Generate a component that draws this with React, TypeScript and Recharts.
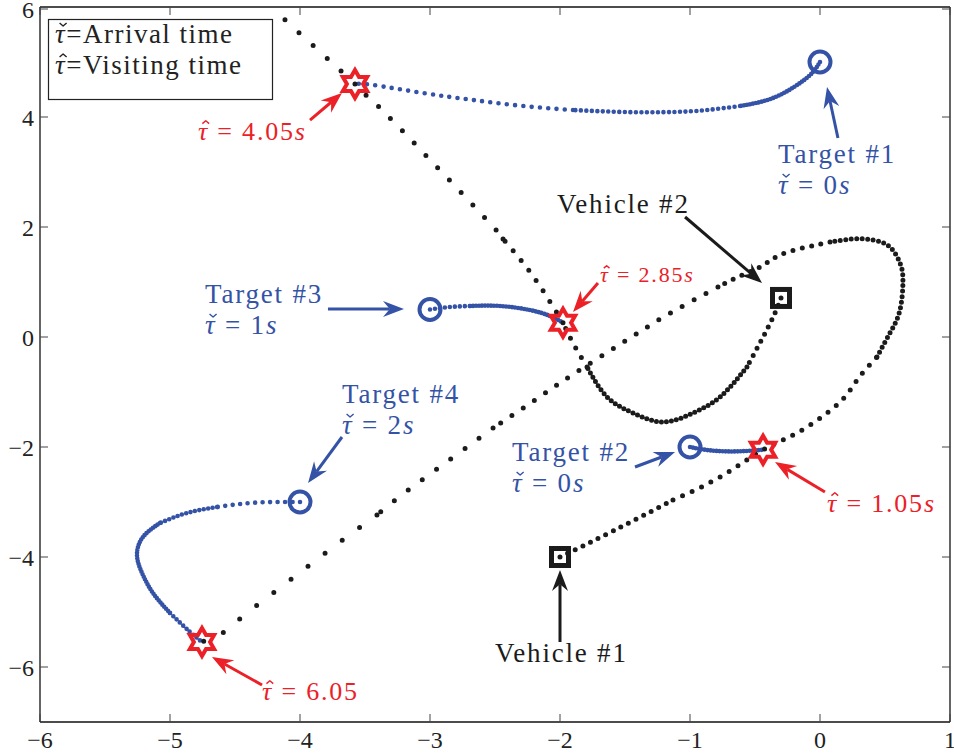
import React from 'react';
import { ComposedChart, Line, Scatter, XAxis, YAxis, ReferenceLine, ReferenceDot } from 'recharts';

type Pt = { x: number; y: number };
const pts = (rows: number[][]): Pt[] => rows.map(([x, y]) => ({ x, y }));

const xTicks = [-6, -5, -4, -3, -2, -1, 0, 1];
const yTicks = [-6, -4, -2, 0, 2, 4, 6];

// where each target / vehicle starts, and where a target is visited
const targetStarts = pts([[0, 5], [-1, -2], [-3, 0.5], [-4, -3]]);
const vehicleStarts = pts([[-2, -4], [-0.3, 0.71]]);
const visitPoints = pts([[-0.438, -2.05], [-1.977, 0.26], [-3.577, 4.6], [-4.754, -5.545]]);

// vehicle #1, split where the sample spacing changes
const v1Launch = pts([[-2, -4], [-1.592, -3.527], [-1.131, -2.964]]);
const v1Climb = pts([[-1.131, -2.964], [-0.769, -2.545], [-0.438, -2.05], [-0.177, -1.745], [0.138, -1.218], [0.285, -0.782], [0.438, -0.364]]);
const v1Turn = pts([[0.438, -0.364], [0.538, 0.073], [0.615, 0.491], [0.638, 1.036], [0.615, 1.345], [0.538, 1.636], [0.408, 1.764], [0.254, 1.782], [0.077, 1.727]]);
const v1Exit = pts([[0.077, 1.727], [-0.1, 1.636], [-0.308, 1.491], [-0.462, 1.273], [-0.631, 1.091], [-0.785, 0.909]]);
const v1Run = pts([[-0.785, 0.909], [-1.177, 0.4], [-1.523, -0.109], [-1.885, -0.655], [-2.192, -1.145], [-2.515, -1.655]]);
const v1Dash = pts([[-2.515, -1.655], [-2.831, -2.2], [-3.177, -2.8], [-3.408, -3.236]]);
const v1Final = pts([[-3.408, -3.236], [-3.662, -3.673], [-3.915, -4.127], [-4.177, -4.6], [-4.446, -5.091], [-4.585, -5.364], [-4.754, -5.545]]);

// vehicle #2
const v2Launch = pts([[-0.3, 0.71], [-0.346, 0.436], [-0.438, 0.0], [-0.562, -0.545]]);
const v2Loop = pts([[-0.562, -0.545], [-0.769, -1.091], [-0.977, -1.382], [-1.208, -1.545], [-1.438, -1.382], [-1.638, -1.091], [-1.792, -0.545]]);
const v2Rise = pts([[-1.792, -0.545], [-1.9, -0.109], [-1.977, 0.26]]);
const v2Leave = pts([[-1.977, 0.26], [-2.208, 1.109], [-2.438, 1.782]]);
const v2Cruise = pts([[-2.438, 1.782], [-2.562, 2.127], [-3.285, 3.927], [-3.477, 4.364], [-3.577, 4.6]]);
const v2Out = pts([[-3.577, 4.6], [-3.685, 4.836], [-4.131, 5.8]]);

// target motion
const t1Slow = pts([[0, 5], [-0.054, 4.818], [-0.154, 4.618], [-0.362, 4.345], [-0.615, 4.2]]);
const t1Mid = pts([[-0.615, 4.2], [-0.869, 4.127], [-1.131, 4.091], [-1.515, 4.091], [-1.9, 4.127]]);
const t1Fast = pts([[-1.9, 4.127], [-2.285, 4.2], [-2.669, 4.309], [-3.054, 4.436], [-3.438, 4.582], [-3.577, 4.6]]);
const t2Path = pts([[-1, -2], [-0.85, -2.06], [-0.65, -2.08], [-0.438, -2.05]]);
const t3Start = pts([[-3, 0.5], [-2.846, 0.545], [-2.692, 0.564]]);
const t3Path = pts([[-2.692, 0.564], [-2.462, 0.564], [-2.231, 0.49], [-2.077, 0.382], [-1.977, 0.26]]);
const t4Start = pts([[-4, -3], [-4.154, -3.0], [-4.385, -3.018], [-4.638, -3.091]]);
const t4Bend = pts([[-4.638, -3.091], [-4.869, -3.2], [-5.077, -3.382]]);
const t4Turn = pts([[-5.077, -3.382], [-5.208, -3.636], [-5.254, -3.964], [-5.215, -4.291], [-5.131, -4.655], [-5.0, -5.018]]);
const t4End = pts([[-5.0, -5.018], [-4.846, -5.364], [-4.754, -5.545]]);

const BLUE = '#3453a6';
const RED = '#ec2027';
const INK = '#1b1b1b';
const FONT = '"Liberation Serif", "Times New Roman", serif';

const paths = [
  { id: 't1a', data: t1Slow, color: BLUE, gap: 3 },
  { id: 't1b', data: t1Mid, color: BLUE, gap: 5.5 },
  { id: 't1c', data: t1Fast, color: BLUE, gap: 8.3 },
  { id: 't2', data: t2Path, color: BLUE, gap: 3 },
  { id: 't3a', data: t3Start, color: BLUE, gap: 5 },
  { id: 't3b', data: t3Path, color: BLUE, gap: 3 },
  { id: 't4a', data: t4Start, color: BLUE, gap: 7.5 },
  { id: 't4b', data: t4Bend, color: BLUE, gap: 4.5 },
  { id: 't4c', data: t4Turn, color: BLUE, gap: 2.8 },
  { id: 't4d', data: t4End, color: BLUE, gap: 4.5 },
  { id: 'v1a', data: v1Launch, color: INK, gap: 8.5 },
  { id: 'v1b', data: v1Climb, color: INK, gap: 10.5 },
  { id: 'v1c', data: v1Turn, color: INK, gap: 5.5 },
  { id: 'v1d', data: v1Exit, color: INK, gap: 9.5 },
  { id: 'v1e', data: v1Run, color: INK, gap: 13.5 },
  { id: 'v1f', data: v1Dash, color: INK, gap: 17.5 },
  { id: 'v1g', data: v1Final, color: INK, gap: 21.5 },
  { id: 'v2a', data: v2Launch, color: INK, gap: 8 },
  { id: 'v2b', data: v2Loop, color: INK, gap: 5 },
  { id: 'v2c', data: v2Rise, color: INK, gap: 11 },
  { id: 'v2d', data: v2Leave, color: INK, gap: 12.5 },
  { id: 'v2e', data: v2Cruise, color: INK, gap: 17 },
  { id: 'v2f', data: v2Out, color: INK, gap: 19 },
];

// callouts: arrow from tail to head, in axis units
const arrows = [
  { from: { x: -3.923, y: 3.945 }, to: { x: -3.677, y: 4.436 }, color: RED },
  { from: { x: 0.138, y: 3.618 }, to: { x: 0.054, y: 4.545 }, color: BLUE },
  { from: { x: -1.038, y: 2.182 }, to: { x: -0.446, y: 0.982 }, color: INK },
  { from: { x: -1.708, y: 0.982 }, to: { x: -1.9, y: 0.455 }, color: RED },
  { from: { x: -3.785, y: 0.509 }, to: { x: -3.2, y: 0.509 }, color: BLUE },
  { from: { x: -3.677, y: -1.818 }, to: { x: -3.938, y: -2.655 }, color: BLUE },
  { from: { x: -1.423, y: -2.364 }, to: { x: -1.115, y: -2.091 }, color: BLUE },
  { from: { x: 0.038, y: -2.818 }, to: { x: -0.346, y: -2.273 }, color: RED },
  { from: { x: -2.0, y: -5.545 }, to: { x: -2.0, y: -4.236 }, color: INK },
  { from: { x: -4.292, y: -6.327 }, to: { x: -4.677, y: -5.818 }, color: RED },
];

// text anchored at the left end of its first baseline
const notes = [
  { x: -4.785, y: 3.582, color: RED, size: 26, lines: ['τ\u0302 = 4.05s'] },
  { x: -0.323, y: 3.164, color: BLUE, size: 27, lines: ['Target #1', 'τ\u030C = 0s'] },
  { x: -2.023, y: 2.255, color: INK, size: 27, lines: ['Vehicle #2'] },
  { x: -1.692, y: 1.0, color: RED, size: 22, lines: ['τ\u0302 = 2.85s'] },
  { x: -4.731, y: 0.618, color: BLUE, size: 27, lines: ['Target #3', 'τ\u030C = 1s'] },
  { x: -3.677, y: -1.2, color: BLUE, size: 27, lines: ['Target #4', 'τ\u030C = 2s'] },
  { x: -2.369, y: -2.255, color: BLUE, size: 27, lines: ['Target #2', 'τ\u030C = 0s'] },
  { x: 0.054, y: -3.182, color: RED, size: 26, lines: ['τ\u0302 = 1.05s'] },
  { x: -2.5, y: -5.909, color: INK, size: 27, lines: ['Vehicle #1'] },
  { x: -4.292, y: -6.6, color: RED, size: 26, lines: ['τ\u0302 = 6.05'] },
];

const fmt = (v: number) => (v < 0 ? '\u2212' + Math.abs(v) : String(v));

// accent over a leading τ, drawn as a stroke since the serif face won't stack the mark
function Accent({ x, y, size, kind, color }: { x: number; y: number; size: number; kind: string; color: string }) {
  const cx = x + 0.3 * size;
  const top = y - 0.74 * size;
  const w = 0.13 * size;
  const h = 0.11 * size;
  const d =
    kind === '\u0302'
      ? `M${cx - w},${top + h}L${cx},${top}L${cx + w},${top + h}`
      : `M${cx - w},${top}L${cx},${top + h}L${cx + w},${top}`;
  return <path d={d} fill="none" stroke={color} strokeWidth={1.4} strokeLinejoin="round" />;
}

// italic τ and trailing unit, upright digits
function MathLine({ text }: { text: string }) {
  if (!text.startsWith('τ')) return <>{text}</>;
  let rest = text.slice(2);
  let unit = '';
  if (/\ds$/.test(rest)) {
    unit = 's';
    rest = rest.slice(0, -1);
  }
  return (
    <>
      <tspan fontStyle="italic">τ</tspan>
      <tspan>{rest}</tspan>
      {unit && <tspan fontStyle="italic">{unit}</tspan>}
    </>
  );
}

function BottomTick({ x, y, payload }: any) {
  return (
    <g>
      <line x1={x} x2={x} y1={y - 9} y2={y - 17} stroke="#444" strokeWidth={1} />
      <text x={x} y={y} dy="0.71em" textAnchor="middle" fontFamily={FONT} fontSize={24} fill="#222">
        {fmt(payload.value)}
      </text>
    </g>
  );
}

function LeftTick({ x, y, payload }: any) {
  return (
    <g>
      <line x1={x + 6} x2={x + 14} y1={y} y2={y} stroke="#444" strokeWidth={1} />
      <text x={x} y={y} dy="0.36em" textAnchor="end" fontFamily={FONT} fontSize={24} fill="#222">
        {fmt(payload.value)}
      </text>
    </g>
  );
}

const TopTick = ({ x, y }: any) => <line x1={x} x2={x} y1={y} y2={y + 8} stroke="#444" strokeWidth={1} />;
const RightTick = ({ x, y }: any) => <line x1={x} x2={x - 8} y1={y} y2={y} stroke="#444" strokeWidth={1} />;

const TargetMark = ({ cx, cy }: any) => (
  <circle cx={cx} cy={cy} r={10.5} fill="none" stroke={BLUE} strokeWidth={4} />
);

const VehicleMark = ({ cx, cy }: any) => (
  <rect x={cx - 8.5} y={cy - 8.5} width={17} height={17} fill="none" stroke={INK} strokeWidth={5} />
);

function VisitMark({ cx, cy }: any) {
  const R = 14;
  const r = R / Math.sqrt(3);
  const d = Array.from({ length: 12 }, (_, i) => {
    const a = (-90 + i * 30) * (Math.PI / 180);
    const rad = i % 2 === 0 ? R : r;
    return `${i ? 'L' : 'M'}${cx + rad * Math.cos(a)},${cy + rad * Math.sin(a)}`;
  }).join('') + 'Z';
  return <path d={d} fill="none" stroke={RED} strokeWidth={4} />;
}

function Arrow({ x1, y1, x2, y2, stroke }: any) {
  const ang = Math.atan2(y2 - y1, x2 - x1);
  const c = Math.cos(ang);
  const s = Math.sin(ang);
  const at = (back: number, side: number) => [x2 - back * c - side * s, y2 - back * s + side * c];
  const L = 21;
  const [ax, ay] = at(L, 8);
  const [nx, ny] = at(L * 0.68, 0);
  const [bx, by] = at(L, -8);
  return (
    <g>
      <line x1={x1} y1={y1} x2={nx} y2={ny} stroke={stroke} strokeWidth={3} />
      <path d={`M${x2},${y2}L${ax},${ay}L${nx},${ny}L${bx},${by}Z`} fill={stroke} />
    </g>
  );
}

function Note({ cx, cy, note }: any) {
  return (
    <g>
      <text x={cx} y={cy} fontFamily={FONT} fontSize={note.size} fill={note.color} letterSpacing={1.8}>
        {note.lines.map((ln: string, i: number) => (
          <tspan key={i} x={cx} y={cy + i * 31}>
            <MathLine text={ln} />
          </tspan>
        ))}
      </text>
      {note.lines.map((ln: string, i: number) =>
        ln.startsWith('τ') ? (
          <Accent key={i} x={cx} y={cy + i * 31} size={note.size} kind={ln[1]} color={note.color} />
        ) : null,
      )}
    </g>
  );
}

function KeyBox() {
  return (
    <svg width={954} height={755} style={{ position: 'absolute', left: 0, top: 0, pointerEvents: 'none' }}>
      <rect x={48.5} y={19.5} width={224} height={80} fill="#fff" stroke="#222" strokeWidth={1.2} />
      <text fontFamily={FONT} fontSize={27} fill="#222" letterSpacing={1.5}>
        <tspan x={55} y={43}>
          <tspan fontStyle="italic">τ</tspan>=Arrival time
        </tspan>
        <tspan x={55} y={74}>
          <tspan fontStyle="italic">τ</tspan>=Visiting time
        </tspan>
      </text>
      <Accent x={55} y={43} size={27} kind={'\u030C'} color="#222" />
      <Accent x={55} y={74} size={27} kind={'\u0302'} color="#222" />
    </svg>
  );
}

export default function App() {
  const axisLine = { stroke: '#111', strokeWidth: 1.3 };
  return (
    <div style={{ position: 'absolute', left: 0, top: 0, width: 954, height: 755, background: '#fff' }}>
      <ComposedChart width={954} height={755} margin={{ top: 6, right: 3, bottom: 32, left: 39 }}>
        <XAxis
          type="number"
          dataKey="x"
          domain={[-6, 1]}
          ticks={xTicks}
          allowDataOverflow
          height={1}
          tickSize={0}
          tickMargin={9}
          tickLine={false}
          axisLine={axisLine}
          tick={<BottomTick />}
        />
        <XAxis
          xAxisId="top"
          orientation="top"
          type="number"
          dataKey="x"
          domain={[-6, 1]}
          ticks={xTicks}
          allowDataOverflow
          height={1}
          tickSize={0}
          tickMargin={0}
          tickLine={false}
          axisLine={axisLine}
          tick={<TopTick />}
        />
        <YAxis
          type="number"
          dataKey="y"
          domain={[-7, 6]}
          ticks={yTicks}
          allowDataOverflow
          width={1}
          tickSize={0}
          tickMargin={6}
          tickLine={false}
          axisLine={axisLine}
          tick={<LeftTick />}
        />
        <YAxis
          yAxisId="right"
          orientation="right"
          type="number"
          dataKey="y"
          domain={[-7, 6]}
          ticks={yTicks}
          allowDataOverflow
          width={1}
          tickSize={0}
          tickMargin={0}
          tickLine={false}
          axisLine={axisLine}
          tick={<RightTick />}
        />

        {paths.map((p) => (
          <Line
            key={p.id}
            data={p.data}
            dataKey="y"
            type="natural"
            stroke={p.color}
            strokeWidth={p.color === BLUE ? 4.6 : 5}
            strokeLinecap="round"
            strokeDasharray={`0 ${p.gap}`}
            dot={false}
            activeDot={false}
            isAnimationActive={false}
          />
        ))}

        <Scatter data={targetStarts} dataKey="y" shape={<TargetMark />} isAnimationActive={false} />
        <Scatter data={vehicleStarts} dataKey="y" shape={<VehicleMark />} isAnimationActive={false} />
        <Scatter data={visitPoints} dataKey="y" shape={<VisitMark />} isAnimationActive={false} />

        {arrows.map((a, i) => (
          <ReferenceLine key={`arrow-${i}`} segment={[a.from, a.to]} stroke={a.color} shape={<Arrow />} />
        ))}
        {notes.map((n, i) => (
          <ReferenceDot key={`note-${i}`} x={n.x} y={n.y} r={0} shape={(p: any) => <Note cx={p.cx} cy={p.cy} note={n} />} />
        ))}
      </ComposedChart>
      <KeyBox />
    </div>
  );
}
